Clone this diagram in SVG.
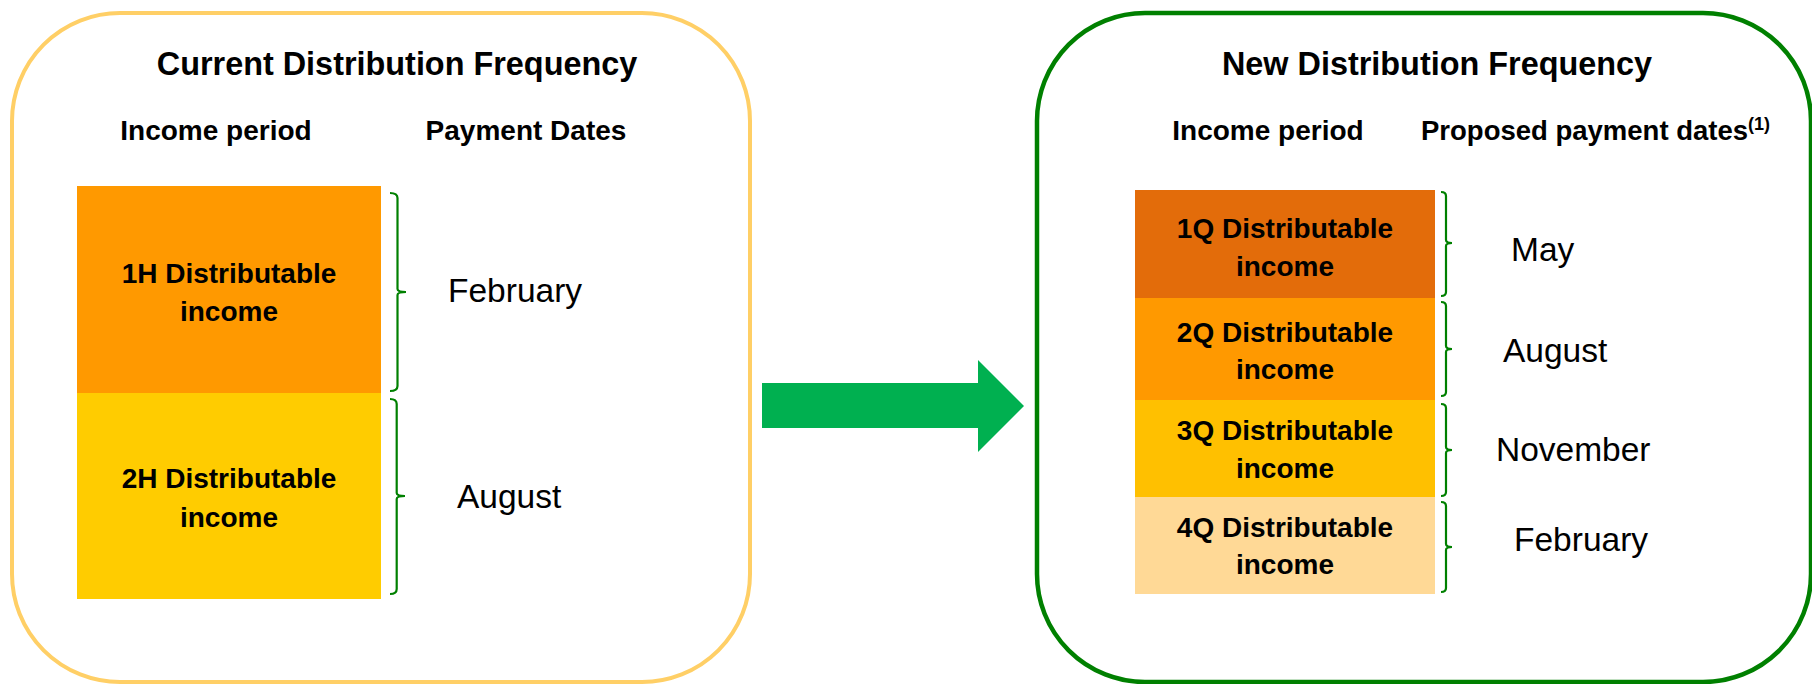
<svg xmlns="http://www.w3.org/2000/svg" width="1812" height="684" viewBox="0 0 1812 684">
<style>
.t{font-family:"Liberation Sans",Arial,sans-serif;font-weight:bold;fill:#000}
.title{font-size:32.4px;text-anchor:middle}
.hdr{font-size:28px;text-anchor:middle}
.lbl{font-size:28px;text-anchor:middle}
.m{font-family:"Liberation Sans",Arial,sans-serif;font-size:33.5px;fill:#000}
.br{fill:none;stroke:#008000;stroke-width:2.2}
</style>
<rect width="1812" height="684" fill="#fff"/>
<g id="current-panel">
<rect x="12" y="13" width="738" height="669" rx="108" ry="108" fill="#fff" stroke="#FFCF66" stroke-width="4"/>
<text class="t title" x="397" y="75">Current Distribution Frequency</text>
<text class="t hdr" x="216" y="140">Income period</text>
<text class="t hdr" x="526" y="140">Payment Dates</text>
</g>
<g id="node-1H">
<rect x="77" y="186" width="304" height="207" fill="#FF9900"/>
<text class="t lbl" x="229" y="283">1H Distributable</text>
<text class="t lbl" x="229" y="321">income</text>
</g>
<g id="node-2H">
<rect x="77" y="393" width="304" height="206" fill="#FFCC00"/>
<text class="t lbl" x="229" y="488">2H Distributable</text>
<text class="t lbl" x="229" y="527">income</text>
</g>
<g id="date-feb-current"><text class="m" x="448" y="302">February</text></g>
<g id="date-aug-current"><text class="m" x="457" y="508">August</text></g>
<g id="new-panel">
<rect x="1037" y="13" width="774" height="669" rx="108" ry="108" fill="#fff" stroke="#008000" stroke-width="4.5"/>
<text class="t title" x="1437" y="75">New Distribution Frequency</text>
<text class="t hdr" x="1268" y="140">Income period</text>
<text class="t" x="1421" y="140" font-size="27.5px">Proposed payment dates<tspan font-size="18px" dy="-10">(1)</tspan></text>
</g>
<g id="node-1Q">
<rect x="1135" y="190" width="300" height="108" fill="#E36C0A"/>
<text class="t lbl" x="1285" y="238">1Q Distributable</text>
<text class="t lbl" x="1285" y="276">income</text>
</g>
<g id="node-2Q">
<rect x="1135" y="298" width="300" height="102" fill="#FF9900"/>
<text class="t lbl" x="1285" y="342">2Q Distributable</text>
<text class="t lbl" x="1285" y="379">income</text>
</g>
<g id="node-3Q">
<rect x="1135" y="400" width="300" height="97" fill="#FFC000"/>
<text class="t lbl" x="1285" y="440">3Q Distributable</text>
<text class="t lbl" x="1285" y="478">income</text>
</g>
<g id="node-4Q">
<rect x="1135" y="497" width="300" height="97" fill="#FFD996"/>
<text class="t lbl" x="1285" y="537">4Q Distributable</text>
<text class="t lbl" x="1285" y="574">income</text>
</g>
<g id="date-may"><text class="m" x="1511" y="261">May</text></g>
<g id="date-aug-new"><text class="m" x="1503" y="362">August</text></g>
<g id="date-nov"><text class="m" x="1496" y="461">November</text></g>
<g id="date-feb-new"><text class="m" x="1514" y="551">February</text></g>
<g id="connectors">
<path class="br" d="M390,193 Q397.5,193 397.5,198 L397.5,289 Q397.5,292 406,292 Q397.5,292 397.5,295 L397.5,386 Q397.5,391 390,391"/>
<path class="br" d="M390,399 Q396.7,399 396.7,404 L396.7,493 Q396.7,496 405,496 Q396.7,496 396.7,499 L396.7,589 Q396.7,594 390,594"/>
<path class="br" d="M1441,192 Q1446,192 1446,196 L1446,240 Q1446,243 1452,243 Q1446,243 1446,246 L1446,292 Q1446,296 1441,296"/>
<path class="br" d="M1441,302 Q1446,302 1446,306 L1446,346 Q1446,349 1452,349 Q1446,349 1446,352 L1446,392 Q1446,396 1441,396"/>
<path class="br" d="M1441,404 Q1446,404 1446,408 L1446,447 Q1446,450 1452,450 Q1446,450 1446,453 L1446,492 Q1446,496 1441,496"/>
<path class="br" d="M1441,502 Q1446,502 1446,506 L1446,544 Q1446,547 1452,547 Q1446,547 1446,550 L1446,588 Q1446,592 1441,592"/>
<polygon id="arrow" points="762,383 978,383 978,360 1024,406 978,452 978,428 762,428" fill="#00B050"/>
</g>
</svg>
